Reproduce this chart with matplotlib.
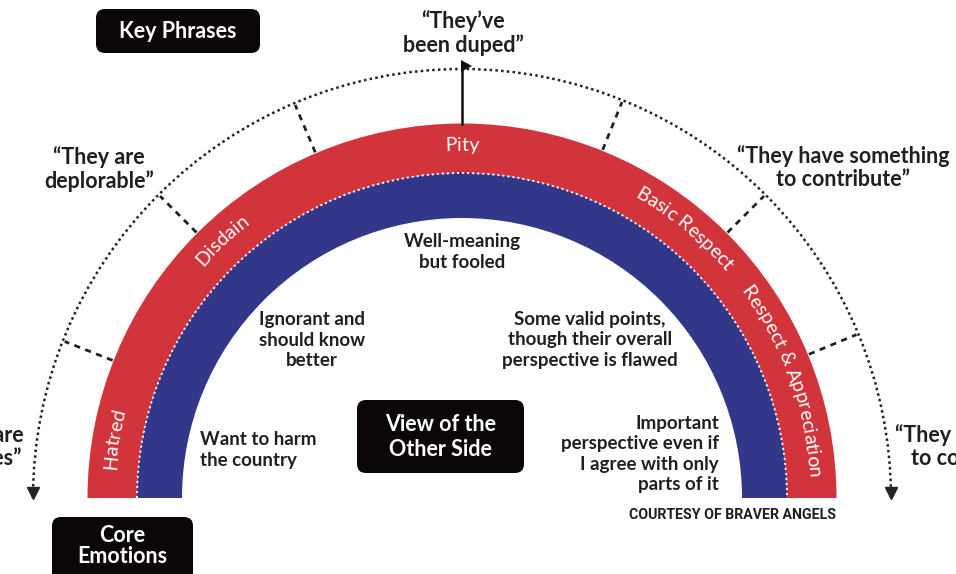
import numpy as np
import matplotlib
matplotlib.use("Agg")
import matplotlib.pyplot as plt
from matplotlib.patches import Wedge, Arc, FancyBboxPatch, Polygon
from matplotlib.textpath import TextToPath
from matplotlib.font_manager import FontProperties

# ---------------- data ----------------
emotions = ["Hatred", "Disdain", "Pity", "Basic Respect", "Respect & Appreciation"]
emotion_angles = [170.5, 133, 90, 50.5, 20]          # degrees along the arch

views = ["Want to harm\nthe country",
         "Ignorant and\nshould know\nbetter",
         "Well-meaning\nbut fooled",
         "Some valid points,\nthough their overall\nperspective is flawed",
         "Important\nperspective even if\nI agree with only\nparts of it"]

phrases = ["\u201cThey are\nenemies\u201d",
           "\u201cThey are\ndeplorable\u201d",
           "\u201cThey\u2019ve\nbeen duped\u201d",
           "\u201cThey have something\nto contribute\u201d",
           "\u201cThey have much\nto contribute\u201d"]

tick_angles = [22.5, 45, 68, 113, 135, 158.5]

headers = ["Key Phrases", "View of the\nOther Side", "Core\nEmotions"]
credit = "COURTESY OF BRAVER ANGELS"

# ---------------- style ----------------
RED = "#d2343b"
BLUE = "#33378a"
INK = "#231f20"
BOX = "#0b0709"
FONT = ["Lato", "DejaVu Sans"]

CX, CY = 462, 498
R_OUT, R_MID, R_IN = 374.5, 325, 280
R_DOT = 429

fig = plt.figure(figsize=(9.56, 5.74), dpi=100)
ax = fig.add_axes([0, 0, 1, 1])
ax.set_xlim(0, 956)
ax.set_ylim(574, 0)
ax.axis("off")

def pt(theta, r):
    t = np.deg2rad(theta)
    return CX + r * np.cos(t), CY - r * np.sin(t)

# bands
ax.add_patch(Wedge((CX, CY), R_OUT, 180, 360, width=R_OUT - R_MID, fc=RED, ec="none"))
ax.add_patch(Wedge((CX, CY), R_MID, 180, 360, width=R_MID - R_IN, fc=BLUE, ec="none"))
ax.add_patch(Arc((CX, CY), 2 * R_MID, 2 * R_MID, theta1=180, theta2=360,
                 color="white", lw=1.4, linestyle=(0, (1, 1.6))))

# outer dotted arc with arrows
ax.add_patch(Arc((CX, CY), 2 * R_DOT, 2 * R_DOT, theta1=180, theta2=360,
                 color="#222222", lw=1.8, linestyle=(0, (1, 1.3))))
ax.plot([CX - R_DOT, CX + R_DOT], [493, 493], ls="none", marker="v", ms=8.5,
        color="#222222")

# dashed ticks
for a in tick_angles:
    x0, y0 = pt(a, R_OUT + 1)
    x1, y1 = pt(a, R_DOT - 2)
    ax.plot([x0, x1], [y0, y1], color="#222222", lw=2, ls=(0, (2.2, 2)))

# flag at the top
ax.plot([CX, CX], [CY - R_OUT, CY - R_DOT - 3], color="#111111", lw=1.8)
ax.add_patch(Polygon([(CX - 1, CY - R_DOT - 9), (CX - 1, CY - R_DOT + 3),
                      (CX + 10, CY - R_DOT - 3)], closed=True, fc="#111111", ec="none"))

# curved emotion labels
ttp = TextToPath()
lab_prop = FontProperties(family=FONT, size=14)

def adv(s):
    if not s:
        return 0.0
    w1 = ttp.get_text_width_height_descent(s + "|", lab_prop, ismath=False)[0]
    w0 = ttp.get_text_width_height_descent("|", lab_prop, ismath=False)[0]
    return (w1 - w0) * 100 / 72

R_BASE = 347
for lab, ac in zip(emotions, emotion_angles):
    total = adv(lab)
    for i, ch in enumerate(lab):
        if ch == " ":
            continue
        mid = (adv(lab[:i]) + adv(lab[:i + 1])) / 2
        th = ac - np.rad2deg((mid - total / 2) / R_BASE)
        x, y = pt(th, R_BASE)
        ax.text(x, y, ch, rotation=th - 90, rotation_mode="anchor",
                ha="center", va="baseline", color="white",
                fontproperties=lab_prop)

# key phrases
phrase_xy = [(-22, 447), (99, 169), (463, 33), (843, 168), (978, 447)]
for s, (x, y) in zip(phrases, phrase_xy):
    ax.text(x, y, s, ha="center", va="center", multialignment="center",
            color=INK, fontsize=15.5, family=FONT, weight="bold",
            linespacing=1.12)

# views of the other side
view_xy = [(200, 450, "left"), (312, 340, "center"), (462, 252, "center"),
           (590, 340, "center"), (719, 454, "right")]
for s, (x, y, ha) in zip(views, view_xy):
    ax.text(x, y, s, ha=ha, va="center", multialignment=ha, color=INK,
            fontsize=13.5, family=FONT, weight="bold", linespacing=1.22)

# header boxes
box_geo = [(96, 9, 164, 44), (357, 400, 167, 73), (52, 517, 141, 72)]
box_txt = [(178, 31), (440.5, 437), (122, 546)]
box_ls = [1.2, 1.22, 1.05]
for s, (bx, by, bw, bh), (tx, ty), ls in zip(headers, box_geo, box_txt, box_ls):
    ax.add_patch(FancyBboxPatch((bx, by), bw, bh,
                                boxstyle="round,pad=0,rounding_size=9",
                                fc=BOX, ec="none"))
    ax.text(tx, ty, s, ha="center", va="center", color="white", fontsize=15.5,
            family=FONT, weight="bold", linespacing=ls)

ax.text(629, 515, credit, ha="left", va="center", color=INK, fontsize=10.2,
        family=["Roboto", "DejaVu Sans"], weight="bold")

fig.savefig("out.png", dpi=100)
